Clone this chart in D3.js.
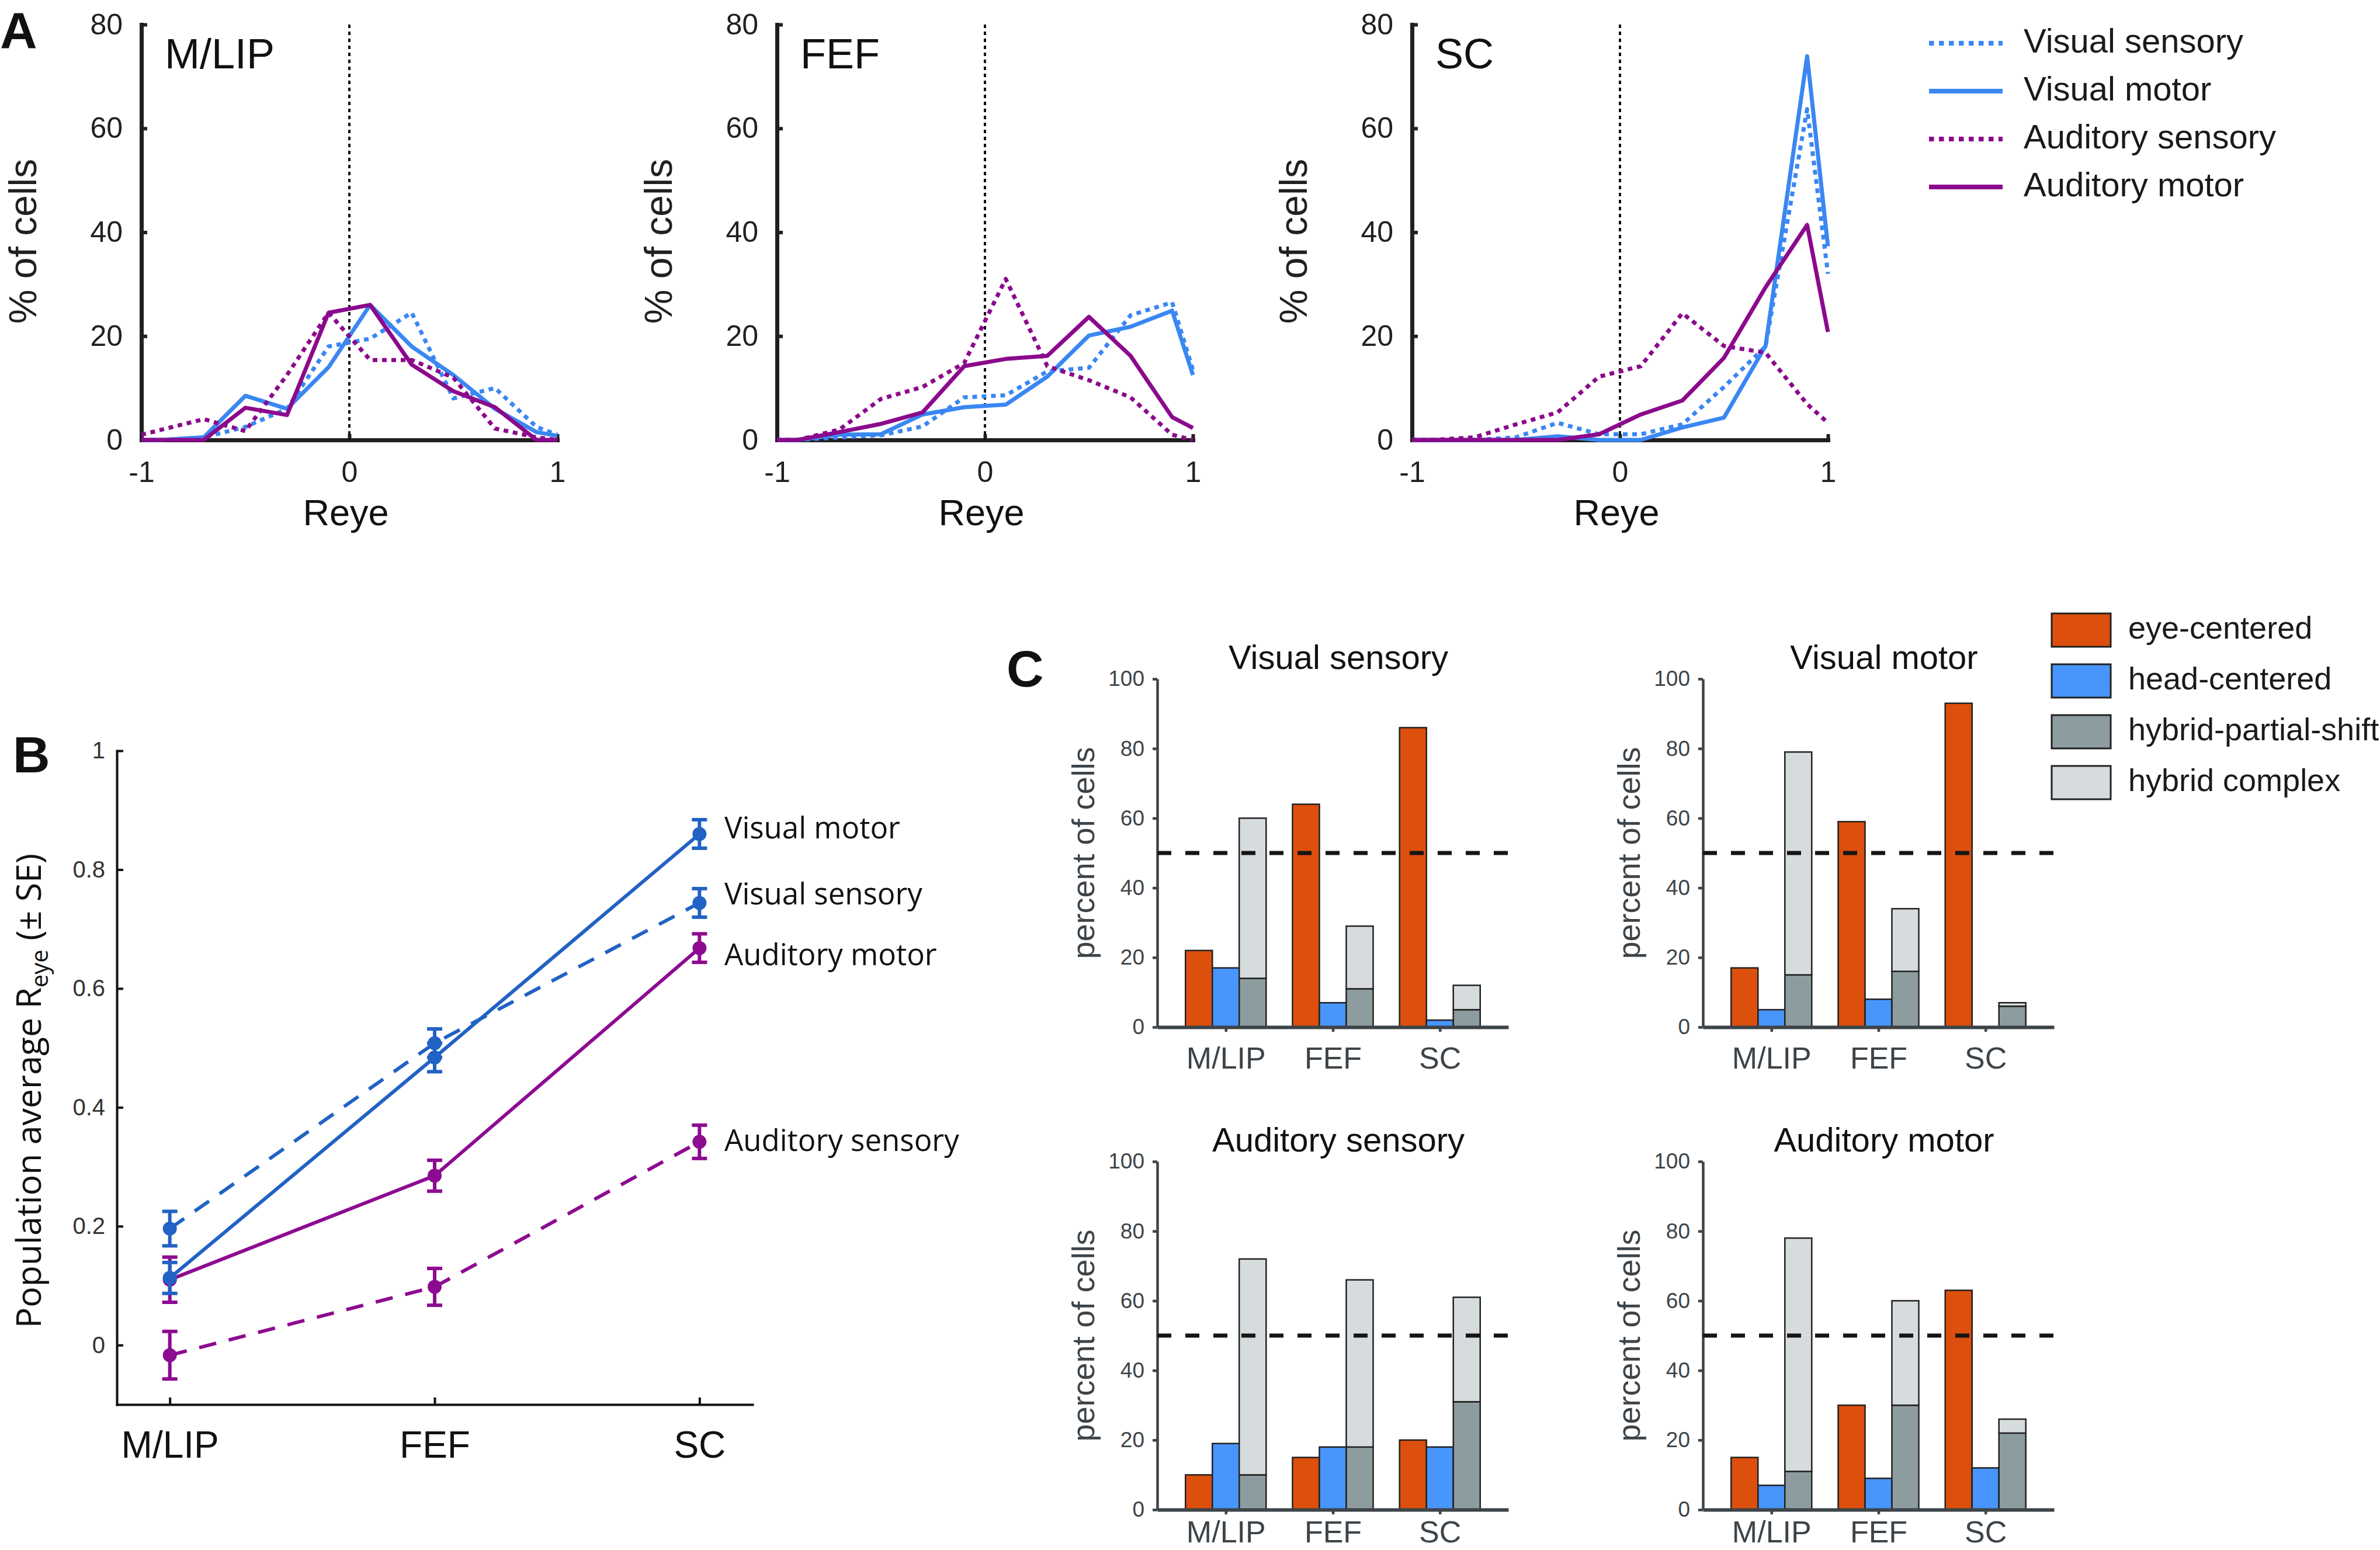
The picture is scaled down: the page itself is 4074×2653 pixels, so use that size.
<!DOCTYPE html>
<html>
<head>
<meta charset="utf-8">
<script src="https://d3js.org/d3.v7.min.js"></script>
<style>
  body { margin: 0; background: #fff; }
  svg { display: block; }
</style>
</head>
<body>
<svg id="figure"></svg>
<script>
// ---------------- data ----------------
const areas = ['M/LIP', 'FEF', 'SC'];
const cellTypes = ['Visual sensory', 'Visual motor', 'Auditory sensory', 'Auditory motor'];

// A: % of cells at each Reye value
const reyeBins = [-1, -0.9, -0.7, -0.5, -0.3, -0.1, 0.1, 0.3, 0.5, 0.7, 0.9, 1];
const mlipVisSens = [0, 0, 0.5, 2.5, 6, 18, 19.5, 24.5, 8, 10, 2.5, 1];
const mlipVisMotor = [0, 0, 0.5, 8.5, 6, 14, 26, 18, 12.5, 6, 1.5, 0.8];
const mlipAudSens = [1, 2, 4, 1.7, 12.5, 24.5, 15.4, 15.4, 12, 2.2, 0.5, 0];
const mlipAudMotor = [0, 0, 0, 6.2, 4.8, 24.5, 26, 14.5, 9.4, 6.3, 0, 0];
const fefVisSens = [0, 0, 0.5, 0.9, 2.6, 8.2, 8.6, 13.2, 13.9, 24, 26.5, 13.5];
const fefVisMotor = [0, 0, 1, 1.1, 4.9, 6.3, 6.8, 12.2, 20.1, 21.8, 24.9, 12.5];
const fefAudSens = [0, 0, 2, 7.9, 10.2, 14.8, 31, 14.2, 11.5, 8.2, 1, 0];
const fefAudMotor = [0, 0, 1.5, 3.1, 5.3, 14.2, 15.6, 16.2, 23.7, 16.2, 4.4, 2.3];
const scVisSens = [0, 0, 0, 0.5, 3.3, 1.1, 1.1, 3, 10.2, 18, 63.7, 32];
const scVisMotor = [0, 0, 0, 0, 0.7, 0, 0, 2.4, 4.3, 18.1, 73.9, 37.3];
const scAudSens = [0, 0, 0.5, 3, 5.3, 12.2, 14.2, 24.4, 18.1, 16.8, 6.9, 3.3];
const scAudMotor = [0, 0, 0, 0, 0, 1.1, 4.9, 7.6, 15.8, 29.4, 41.4, 20.8];

// B: population average Reye (+/- SE), per area
const popVisSens = [0.196, 0.508, 0.744];
const popVisSensSE = [0.029, 0.024, 0.024];
const popVisMotor = [0.113, 0.484, 0.86];
const popVisMotorSE = [0.026, 0.024, 0.024];
const popAudSens = [-0.017, 0.098, 0.342];
const popAudSensSE = [0.04, 0.031, 0.028];
const popAudMotor = [0.11, 0.285, 0.668];
const popAudMotorSE = [0.038, 0.026, 0.024];

// C: percent of cells per reference frame (order follows cellTypes)
const classes = ['eye-centered', 'head-centered', 'hybrid-partial-shift', 'hybrid complex'];
const eyeCentered = [[22, 64, 86], [17, 59, 93], [10, 15, 20], [15, 30, 63]];
const headCentered = [[17, 7, 2], [5, 8, 0], [19, 18, 18], [7, 9, 12]];
const hybridPartial = [[14, 11, 5], [15, 16, 6], [10, 18, 31], [11, 30, 22]];
const hybridComplex = [[46, 18, 7], [64, 18, 1], [62, 48, 30], [67, 30, 4]];

// ---------------- setup ----------------
const arial = '"Liberation Sans", Arial, sans-serif';
const humanist = '"Open Sans", "Noto Sans", sans-serif';
const plain = d => String(d);   // "-1", "0.2", "1" as in the original (hyphen, no trailing zeros)

const svg = d3.select('#figure')
	.attr('width', 4074)
	.attr('height', 2653)
	.style('font-family', arial);

// panel letters
[['A', 0, 82], ['B', 22, 1322], ['C', 1723, 1175]].forEach(([t, x, y]) => {
	svg.append('text').text(t)
		.attr('x', x).attr('y', y)
		.attr('font-size', 88).attr('font-weight', 'bold').attr('fill', '#111');
});

// ---------------- panel A ----------------
const blueA = '#3a87f2';
const purpleA = '#8b0a8c';
const styleA = [
	{ color: blueA, dotted: true },
	{ color: blueA, dotted: false },
	{ color: purpleA, dotted: true },
	{ color: purpleA, dotted: false }
];
const distSeries = [
	[mlipVisSens, mlipVisMotor, mlipAudSens, mlipAudMotor],
	[fefVisSens, fefVisMotor, fefAudSens, fefAudMotor],
	[scVisSens, scVisMotor, scAudSens, scAudMotor]
];
const layoutA = { left: [242, 1330, 2417], width: 712, top: 42, bottom: 753 };

areas.forEach((area, i) => {
	const g = svg.append('g').attr('transform', `translate(${layoutA.left[i]},0)`);
	const x = d3.scaleLinear().domain([-1, 1]).range([0, layoutA.width]);
	const y = d3.scaleLinear().domain([0, 80]).range([layoutA.bottom, layoutA.top]);

	const yAxisG = g.append('g')
		.call(d3.axisLeft(y).tickValues([0, 20, 40, 60, 80]).tickFormat(plain)
			.tickSizeInner(-10).tickSizeOuter(0).tickPadding(32));
	const xAxisG = g.append('g')
		.attr('transform', `translate(0,${layoutA.bottom})`)
		.call(d3.axisBottom(x).tickValues([-1, 0, 1]).tickFormat(plain)
			.tickSizeInner(-10).tickSizeOuter(0));
	[yAxisG, xAxisG].forEach(a => {
		a.attr('font-size', 50).attr('font-family', arial).style('color', '#231f20');
		a.select('.domain').attr('stroke-width', 7).attr('stroke-linecap', 'square');
		a.selectAll('.tick line').attr('stroke-width', 6);
	});
	xAxisG.selectAll('.tick text').attr('y', 72).attr('dy', 0);

	// dotted line at Reye = 0
	g.append('line')
		.attr('x1', x(0)).attr('x2', x(0))
		.attr('y1', y(80)).attr('y2', y(0))
		.attr('stroke', '#111').attr('stroke-width', 4).attr('stroke-dasharray', '6,6');

	const line = d3.line().x((d, j) => x(reyeBins[j])).y(d => y(d));
	distSeries[i].forEach((vals, k) => {
		g.append('path').datum(vals)
			.attr('d', line)
			.attr('fill', 'none')
			.attr('stroke', styleA[k].color)
			.attr('stroke-width', 7)
			.attr('stroke-linejoin', 'round')
			.attr('stroke-dasharray', styleA[k].dotted ? '8,8' : null);
	});

	g.append('text').text(area)
		.attr('x', 40).attr('y', 117)
		.attr('font-size', 72).attr('fill', '#111');
	g.append('text').text('Reye')
		.attr('x', 350).attr('y', 899)
		.attr('text-anchor', 'middle')
		.attr('font-size', 63).attr('fill', '#111');
	g.append('text').text('% of cells')
		.attr('text-anchor', 'middle')
		.attr('transform', `translate(-180,413) rotate(-90)`)
		.attr('font-size', 66).attr('fill', '#231f20');
});

// legend for A
const legendA = svg.append('g').attr('transform', 'translate(3302,74)');
cellTypes.forEach((name, k) => {
	const row = legendA.append('g').attr('transform', `translate(0,${k * 82})`);
	row.append('line')
		.attr('x1', 0).attr('x2', 126)
		.attr('stroke', styleA[k].color)
		.attr('stroke-width', 8)
		.attr('stroke-dasharray', styleA[k].dotted ? '8.5,8.5' : null);
	row.append('text').text(name)
		.attr('x', 162).attr('y', 16)
		.attr('font-size', 58).attr('fill', '#1a1a1a');
});

// ---------------- panel B ----------------
const blueB = '#2162c4';
const purpleB = '#8d0b91';
const popSeries = [
	{ name: 'Auditory sensory', mean: popAudSens, se: popAudSensSE, color: purpleB, dashed: true, nudge: -2 },
	{ name: 'Auditory motor', mean: popAudMotor, se: popAudMotorSE, color: purpleB, dashed: false, nudge: 11 },
	{ name: 'Visual sensory', mean: popVisSens, se: popVisSensSE, color: blueB, dashed: true, nudge: -15 },
	{ name: 'Visual motor', mean: popVisMotor, se: popVisMotorSE, color: blueB, dashed: false, nudge: -10 }
];

const xB = d3.scalePoint().domain(areas).range([200, 1288]).padding(0.2);
const yB = d3.scaleLinear().domain([-0.1, 1]).range([2404, 1285]);

const gB = svg.append('g');
const yAxisB = gB.append('g')
	.attr('transform', 'translate(200,0)')
	.call(d3.axisLeft(yB).tickValues([0, 0.2, 0.4, 0.6, 0.8, 1]).tickFormat(plain)
		.tickSizeInner(-11).tickSizeOuter(0).tickPadding(20));
const xAxisB = gB.append('g')
	.attr('transform', 'translate(0,2404)')
	.call(d3.axisBottom(xB).tickSizeInner(-12).tickSizeOuter(0));
[yAxisB, xAxisB].forEach(a => {
	a.attr('font-family', arial).style('color', '#111');
	a.select('.domain').attr('stroke-width', 4).attr('stroke-linecap', 'square');
	a.selectAll('.tick line').attr('stroke-width', 4);
});
yAxisB.attr('font-size', 40).selectAll('.tick text').attr('fill', '#333');
xAxisB.attr('font-size', 64).selectAll('.tick text').attr('y', 91).attr('dy', 0);

const lineB = d3.line().x((d, j) => xB(areas[j])).y(d => yB(d));
popSeries.forEach(s => {
	gB.append('path').datum(s.mean)
		.attr('d', lineB)
		.attr('fill', 'none')
		.attr('stroke', s.color)
		.attr('stroke-width', 6)
		.attr('stroke-dasharray', s.dashed ? '30,22' : null);

	const pts = gB.selectAll(null).data(s.mean.map((m, j) => ({ area: areas[j], m: m, se: s.se[j] }))).enter();
	pts.append('line')
		.attr('x1', d => xB(d.area)).attr('x2', d => xB(d.area))
		.attr('y1', d => yB(d.m - d.se)).attr('y2', d => yB(d.m + d.se))
		.attr('stroke', s.color).attr('stroke-width', 6);
	[-1, 1].forEach(sign => {
		pts.append('line')
			.attr('x1', d => xB(d.area) - 13).attr('x2', d => xB(d.area) + 13)
			.attr('y1', d => yB(d.m + sign * d.se)).attr('y2', d => yB(d.m + sign * d.se))
			.attr('stroke', s.color).attr('stroke-width', 6);
	});
	pts.append('circle')
		.attr('cx', d => xB(d.area)).attr('cy', d => yB(d.m))
		.attr('r', 12).attr('fill', s.color);

	gB.append('text').text(s.name)
		.attr('x', 1240)
		.attr('y', yB(s.mean[2]) + s.nudge)
		.attr('dy', '0.35em')
		.attr('font-family', humanist)
		.attr('font-size', 51).attr('fill', '#111');
});

// y label with subscript
const yLabB = gB.append('text')
	.attr('text-anchor', 'middle')
	.attr('transform', 'translate(70,1867) rotate(-90)')
	.attr('font-family', humanist)
	.attr('font-size', 59).attr('fill', '#111');
yLabB.append('tspan').text('Population average R');
yLabB.append('tspan').text('eye').attr('font-size', 40).attr('dy', 12);
yLabB.append('tspan').text(' (± SE)').attr('dy', -12);

// ---------------- panel C ----------------
const classColor = ['#dd4f0c', '#4895fc', '#8d9c9f', '#d6dcde'];
const axisGray = '#3d4449';
// labelY: the bottom row's category labels sit at the page edge, keep them just inside it
const layoutC = { left: [1981, 2915], zero: [1758, 2584], labelY: [71, 56], height: 596, width: 601 };

cellTypes.forEach((title, p) => {
	const col = p % 2, row = Math.floor(p / 2);
	const g = svg.append('g')
		.attr('transform', `translate(${layoutC.left[col]},${layoutC.zero[row]})`);
	const x = d3.scalePoint().domain(areas).range([0, layoutC.width]).padding(0.64);
	const sub = d3.scaleBand().domain(['eye', 'head', 'hybrid']).range([-69, 69]);
	const y = d3.scaleLinear().domain([0, 100]).range([0, -layoutC.height]);

	const bars = [];
	areas.forEach((area, i) => {
		bars.push({ area, slot: 'eye', y0: 0, y1: eyeCentered[p][i], c: 0 });
		bars.push({ area, slot: 'head', y0: 0, y1: headCentered[p][i], c: 1 });
		bars.push({ area, slot: 'hybrid', y0: 0, y1: hybridPartial[p][i], c: 2 });
		bars.push({ area, slot: 'hybrid', y0: hybridPartial[p][i], y1: hybridPartial[p][i] + hybridComplex[p][i], c: 3 });
	});

	g.selectAll('.bar')
		.data(bars.filter(d => d.y1 > d.y0))
		.enter()
		.append('rect')
		.attr('class', 'bar')
		.attr('x', d => x(d.area) + sub(d.slot))
		.attr('width', sub.bandwidth())
		.attr('y', d => y(d.y1))
		.attr('height', d => y(d.y0) - y(d.y1))
		.attr('fill', d => classColor[d.c])
		.attr('stroke', '#222')
		.attr('stroke-width', 2.5);

	const yAxisG = g.append('g')
		.call(d3.axisLeft(y).tickValues([0, 20, 40, 60, 80, 100]).tickSizeInner(8).tickSizeOuter(0).tickPadding(14));
	const xAxisG = g.append('g')
		.call(d3.axisBottom(x).tickSizeInner(8).tickSizeOuter(0));
	[yAxisG, xAxisG].forEach(a => {
		a.attr('font-family', arial).style('color', axisGray);
		a.selectAll('.tick line').attr('stroke-width', 4.5);
	});
	yAxisG.attr('font-size', 37);
	yAxisG.select('.domain').attr('stroke-width', 4.5);
	xAxisG.attr('font-size', 52).selectAll('.tick text').attr('y', layoutC.labelY[row]).attr('dy', 0);
	xAxisG.select('.domain').attr('stroke-width', 6);

	// 50% reference
	g.append('line')
		.attr('x1', 0).attr('x2', layoutC.width)
		.attr('y1', y(50)).attr('y2', y(50))
		.attr('stroke', '#151515').attr('stroke-width', 7).attr('stroke-dasharray', '24,24');

	g.append('text').text(title)
		.attr('x', 310).attr('y', -613)
		.attr('text-anchor', 'middle')
		.attr('font-size', 58).attr('fill', '#111');
	g.append('text').text('percent of cells')
		.attr('text-anchor', 'middle')
		.attr('transform', `translate(-108,${y(50)}) rotate(-90)`)
		.attr('font-size', 54).attr('fill', axisGray);
});

// legend for C
const legendC = svg.append('g').attr('transform', 'translate(3512,1050)');
classes.forEach((name, k) => {
	const row = legendC.append('g').attr('transform', `translate(0,${k * 87})`);
	row.append('rect')
		.attr('width', 101).attr('height', 57)
		.attr('fill', classColor[k])
		.attr('stroke', '#222').attr('stroke-width', 3);
	row.append('text').text(name)
		.attr('x', 131).attr('y', 43)
		.attr('font-size', 54).attr('fill', '#1a1a1a');
});
</script>
</body>
</html>
